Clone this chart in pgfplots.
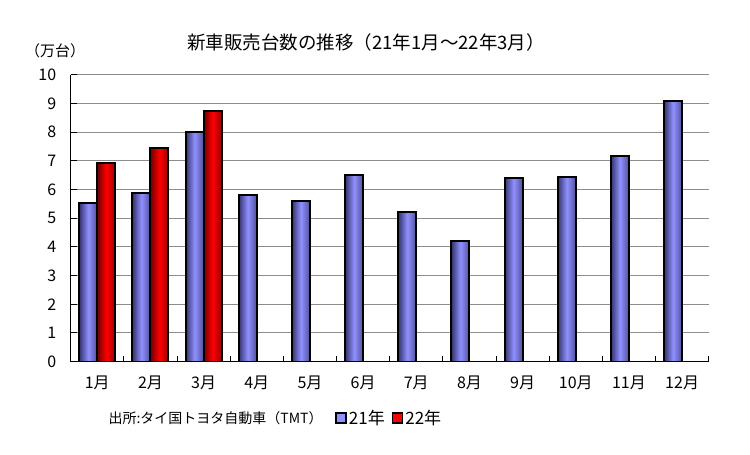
\documentclass[border=0pt]{standalone}
\usepackage{fontspec}
\setmainfont{Noto Sans CJK JP}
\usepackage{pgfplots}
\pgfplotsset{compat=1.18}
\definecolor{bl}{HTML}{9090FF}
\definecolor{bld}{HTML}{34346E}
\definecolor{rd}{HTML}{FF0000}
\definecolor{rdd}{HTML}{700000}
\definecolor{gridc}{HTML}{8C8C8C}
\pgfplotsset{
  b21/.style={ybar, bar width=18pt, bar shift=-9pt, draw=black, line width=2pt,
    left color=bld, right color=bld!70!bl, middle color=bl, forget plot},
  b22/.style={ybar, bar width=18pt, bar shift=9pt, draw=black, line width=2pt,
    left color=rdd, right color=rdd!70!rd, middle color=rd, forget plot},
}
\begin{document}
\begin{tikzpicture}[x=1pt,y=1pt]
\path[use as bounding box] (0,0) rectangle (750,455);
\begin{axis}[at={(70.7pt,93.3pt)}, anchor=south west,
  width=638pt, height=287pt, scale only axis,
  xmin=0.5, xmax=12.5, ymin=0, ymax=10,
  axis x line*=bottom, axis y line*=left,
  axis line style={black, line width=1pt},
  tick align=inside,
  major tick length=6pt,
  tick style={black, line width=1pt},
  xtick={0.5,1.5,...,12.5}, xticklabels={},
  extra x ticks={1,2,...,12},
  extra x tick labels={1月,2月,3月,4月,5月,6月,7月,8月,9月,10月,11月,12月},
  extra x tick style={major tick length=0pt},
  ytick={0,1,...,10},
  ymajorgrids=true,
  grid style={gridc, line width=1pt},
  /pgf/number format/assume math mode=true,
  ticklabel style={font=\fontsize{16pt}{18pt}\selectfont},
  yticklabel style={xshift=-11pt},
  xticklabel style={yshift=-11pt},
  legend style={at={(rel axis cs:0.410,-0.196)}, anchor=west, draw=none, fill=none,
    font=\fontsize{17pt}{19pt}\selectfont, legend columns=2,
    /tikz/every even column/.append style={column sep=5pt}},
  legend image code/.code={\draw[#1] (0pt,-5pt) rectangle (10pt,5pt);},
]
% 21年
\addplot[b21] coordinates {(1,5.54)};
\addplot[b21] coordinates {(2,5.89)};
\addplot[b21] coordinates {(3,8.01)};
\addplot[b21] coordinates {(4,5.82)};
\addplot[b21] coordinates {(5,5.61)};
\addplot[b21] coordinates {(6,6.52)};
\addplot[b21] coordinates {(7,5.23)};
\addplot[b21] coordinates {(8,4.21)};
\addplot[b21] coordinates {(9,6.41)};
\addplot[b21] coordinates {(10,6.45)};
\addplot[b21] coordinates {(11,7.17)};
\addplot[b21] coordinates {(12,9.09)};
% 22年
\addplot[b22] coordinates {(1,6.93)};
\addplot[b22] coordinates {(2,7.46)};
\addplot[b22] coordinates {(3,8.75)};
\addlegendimage{draw=black, line width=1.5pt, fill=bl}
\addlegendentry{21年}
\addlegendimage{draw=black, line width=1.5pt, fill=rd}
\addlegendentry{22年}
\end{axis}
\node[font=\fontsize{18.5pt}{20pt}\selectfont] at (366,413) {新車販売台数の推移（21年1月～22年3月）};
\node[font=\fontsize{15pt}{17pt}\selectfont] at (55,404) {（万台）};
\node[anchor=west, font=\fontsize{14pt}{16pt}\selectfont] at (105,37) {出所:タイ国トヨタ自動車（TMT）};
\end{tikzpicture}
\end{document}
